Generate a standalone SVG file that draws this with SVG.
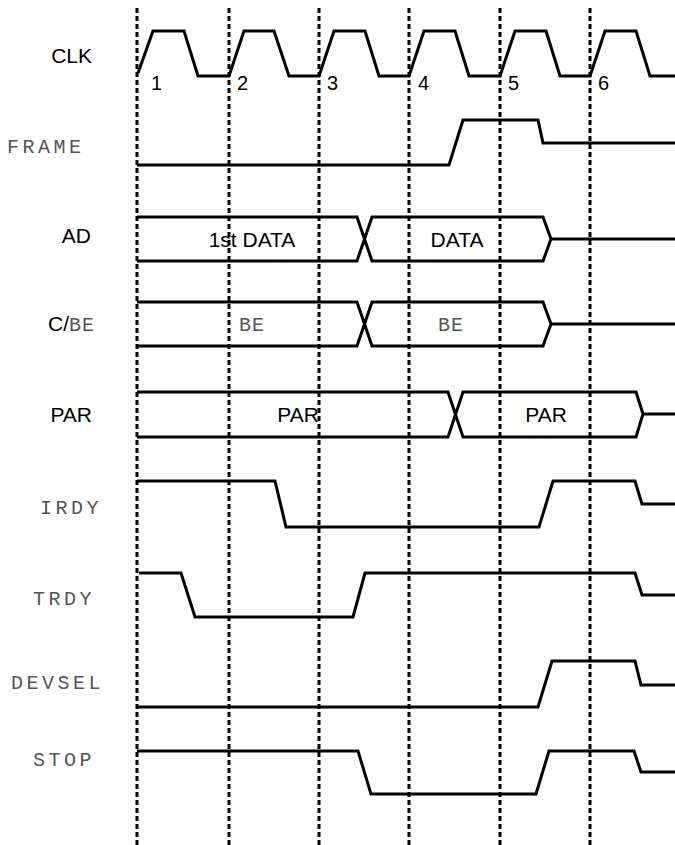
<svg xmlns="http://www.w3.org/2000/svg" width="675" height="845" viewBox="0 0 675 845">
<style>
.grid{stroke:#000;stroke-width:3;stroke-dasharray:5 3;fill:none}
.w{stroke:#000;stroke-width:3;fill:none;stroke-linejoin:miter}
.sans{font-family:"Liberation Sans",Arial,sans-serif;font-size:21px;fill:#000}
.num{font-family:"Liberation Sans",Arial,sans-serif;font-size:20px;fill:#000}
.mono{font-family:"Liberation Mono","Courier New",monospace;font-size:20px;fill:#555;letter-spacing:3.5px}
.bmono{font-family:"Liberation Mono","Courier New",monospace;font-size:20px;fill:#555;letter-spacing:1px}
</style>
<rect width="675" height="845" fill="#fff"/>
<g id="grid">
<line class="grid" x1="137" y1="8" x2="137" y2="845"/>
<line class="grid" x1="229" y1="8" x2="229" y2="845"/>
<line class="grid" x1="319" y1="8" x2="319" y2="845"/>
<line class="grid" x1="409" y1="8" x2="409" y2="845"/>
<line class="grid" x1="500" y1="8" x2="500" y2="845"/>
<line class="grid" x1="590" y1="8" x2="590" y2="845"/>
</g>
<g id="labels">
<text class="sans" x="92" y="63" text-anchor="end">CLK</text>
<text class="mono" x="7" y="153">FRAME</text>
<text class="sans" x="91" y="243" text-anchor="end">AD</text>
<text x="48" y="331"><tspan class="sans">C/</tspan><tspan class="bmono">BE</tspan></text>
<text class="sans" x="92" y="422" text-anchor="end">PAR</text>
<text class="mono" x="40" y="514">IRDY</text>
<text class="mono" x="33" y="605">TRDY</text>
<text class="mono" x="11" y="689">DEVSEL</text>
<text class="mono" x="33" y="766">STOP</text>
</g>
<g id="clk-numbers">
<text class="num" x="151" y="90">1</text>
<text class="num" x="237" y="90">2</text>
<text class="num" x="327" y="90">3</text>
<text class="num" x="418" y="90">4</text>
<text class="num" x="508" y="90">5</text>
<text class="num" x="598" y="90">6</text>
</g>
<g id="clk">
<polyline class="w" points="138,73 153,31 184,31 198,76 229,76 244,31 274,31 289,76 319,76 334,31 365,31 379,76 409,76 424,31 455,31 469,76 500,76 515,31 546,31 560,76 590,76 605,31 636,31 650,76 675,76"/>
</g>
<g id="frame">
<polyline class="w" points="137,165 449,165 463,120 538,120 543,143 675,143"/>
</g>
<g id="ad">
<polyline class="w" points="137,217 357,217 372,261 543,261 551,239 543,217 372,217 357,261 137,261"/>
<line class="w" x1="551" y1="239" x2="675" y2="239"/>
<text class="sans" x="252" y="247" text-anchor="middle">1st DATA</text>
<text class="sans" x="457" y="247" text-anchor="middle">DATA</text>
</g>
<g id="cbe">
<polyline class="w" points="137,302 357,302 372,346 543,346 551,324 543,302 372,302 357,346 137,346"/>
<line class="w" x1="551" y1="324" x2="675" y2="324"/>
<text class="bmono" x="252" y="331" text-anchor="middle">BE</text>
<text class="bmono" x="451" y="331" text-anchor="middle">BE</text>
</g>
<g id="par">
<polyline class="w" points="137,392 448,392 463,437 636,437 643,414 636,392 463,392 448,437 137,437"/>
<line class="w" x1="643" y1="414" x2="675" y2="414"/>
<text class="sans" x="298" y="422" text-anchor="middle">PAR</text>
<text class="sans" x="546" y="422" text-anchor="middle">PAR</text>
</g>
<g id="irdy">
<polyline class="w" points="137,481 275,481 286,527 539,527 553,481 635,481 642,504 675,504"/>
</g>
<g id="trdy">
<polyline class="w" points="139,573 181,573 195,617 353,617 365,573 635,573 642,595 675,595"/>
</g>
<g id="devsel">
<polyline class="w" points="137,707 538,707 552,661 635,661 641,685 675,685"/>
</g>
<g id="stop">
<polyline class="w" points="137,751 358,751 371,794 536,794 549,751 634,751 641,772 675,772"/>
</g>
</svg>
